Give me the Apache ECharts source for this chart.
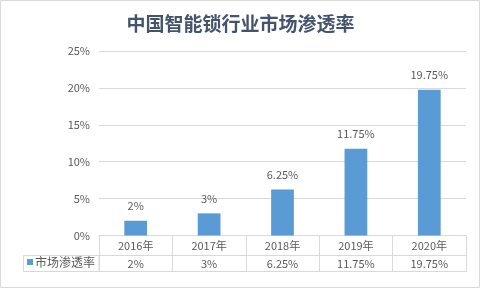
<!DOCTYPE html>
<html>
<head>
<meta charset="utf-8">
<script src="https://cdn.jsdelivr.net/npm/echarts@6/dist/echarts.min.js"></script>
<style>
  html, body { margin: 0; padding: 0; background: #fff; }
  #chart { width: 481px; height: 289px; }
</style>
</head>
<body>
<div id="chart"></div>
<script>
// Smart lock market penetration, 2016-2020 (percent)
const years = ['2016年', '2017年', '2018年', '2019年', '2020年'];
const penetration = [2, 3, 6.25, 11.75, 19.75];
const yTicks = [0, 5, 10, 15, 20, 25];
const seriesName = '市场渗透率';

const FONT = '"Noto Sans CJK SC", "Noto Sans", sans-serif';
const TEXT = '#595959';
const LINE = '#d9d9d9';
const fmt = v => v + '%';

const chart = echarts.init(document.getElementById('chart'), null, { renderer: 'canvas' });

chart.setOption({
  animation: false,
  backgroundColor: '#fff',
  textStyle: { fontFamily: FONT },
  title: {
    text: '中国智能锁行业市场渗透率',
    left: 'center',
    top: 9,
    textStyle: { fontFamily: FONT, fontSize: 19, fontWeight: 'bold', color: '#44546A' }
  },
  legend: {
    left: 27,
    top: 256,
    icon: 'rect',
    itemWidth: 6,
    itemHeight: 6,
    itemGap: 2,
    padding: 0,
    textStyle: { fontFamily: FONT, fontSize: 12, color: TEXT, padding: [0, 0, 0, -3] },
    data: [seriesName]
  },
  grid: { left: 99, right: 15, top: 51, bottom: 53.5 },
  xAxis: [
    {
      type: 'category',
      data: years,
      position: 'bottom',
      axisLine: { show: true, lineStyle: { color: LINE } },
      axisTick: { show: true, length: 36, interval: 0, lineStyle: { color: LINE } },
      axisLabel: { margin: 5, fontSize: 11, color: TEXT, fontFamily: FONT }
    },
    {
      type: 'category',
      data: penetration.map(fmt),
      position: 'bottom',
      offset: 20,
      axisLine: { show: true, lineStyle: { color: LINE } },
      axisTick: { show: false },
      axisLabel: { margin: 3, fontSize: 11, color: TEXT, fontFamily: FONT }
    },
    {
      type: 'category',
      data: years,
      position: 'bottom',
      offset: 36,
      axisLine: { show: true, lineStyle: { color: LINE } },
      axisTick: { show: false },
      axisLabel: { show: false }
    }
  ],
  yAxis: {
    type: 'value',
    min: yTicks[0],
    max: yTicks[yTicks.length - 1],
    interval: 5,
    axisLine: { show: false },
    axisTick: { show: false },
    splitLine: { lineStyle: { color: LINE } },
    axisLabel: { margin: 9, fontSize: 11, color: TEXT, fontFamily: FONT, formatter: fmt }
  },
  series: [{
    name: seriesName,
    type: 'bar',
    xAxisIndex: 0,
    data: penetration,
    barWidth: '31%',
    itemStyle: { color: '#5B9BD5' },
    label: {
      show: true,
      position: 'top',
      distance: 9,
      fontSize: 11,
      color: TEXT,
      fontFamily: FONT,
      formatter: p => fmt(p.value)
    }
  }],
  graphic: [
    // outer chart frame
    {
      type: 'rect',
      shape: { x: 0.5, y: 0.5, width: 479, height: 287 },
      style: { fill: null, stroke: LINE, lineWidth: 1 },
      silent: true
    },
    // legend cell of the data table
    {
      type: 'rect',
      shape: { x: 23.5, y: 255.5, width: 75.5, height: 16 },
      style: { fill: null, stroke: LINE, lineWidth: 1 },
      silent: true
    }
  ]
});
</script>
</body>
</html>
